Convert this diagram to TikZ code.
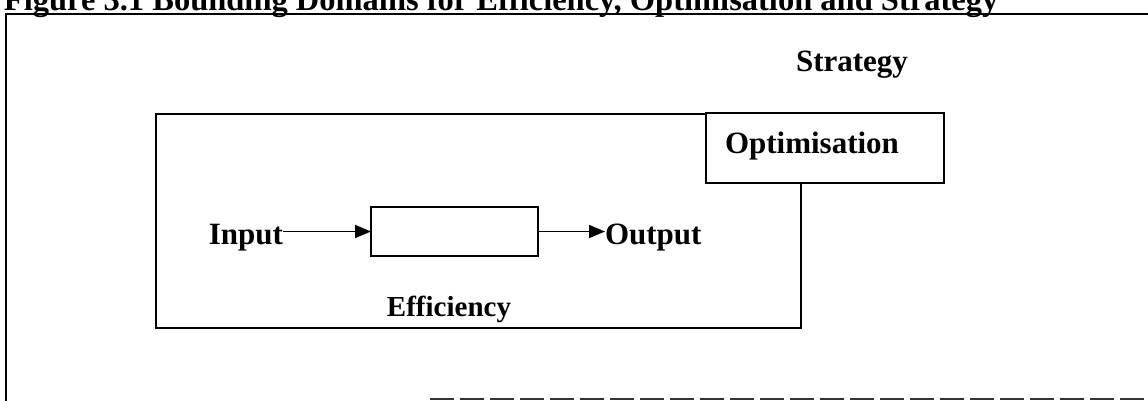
\documentclass[tikz,border=0pt]{standalone}
\usepackage{fontspec}
\setmainfont{Liberation Serif}
\usetikzlibrary{arrows.meta}
\begin{document}
\begin{tikzpicture}[x=1pt,y=-1pt,
  line width=1.8pt,
  lbl/.style={font=\fontsize{31}{36}\selectfont\bfseries, inner sep=0pt, outer sep=0pt},
  boxstyle/.style={draw, line width=1.8pt, inner sep=0pt, outer sep=0pt},
  arr/.style={-{Triangle[length=16pt,width=13pt]}, line width=1.8pt}]
\useasboundingbox (0,0) rectangle (1148,400);
\clip (0,0) rectangle (1148,400);
\fill[white] (0,0) rectangle (1148,400);
% title (cut off at the top, as in the scan)
\node[lbl, font=\fontsize{32.5}{38}\selectfont\bfseries, anchor=base west] (title) at (4,10) {Figure 3.1 Bounding Domains for Efficiency, Optimisation and Strategy};
% outer frame
\coordinate (fTL) at (6,14);
\coordinate (fTR) at (1160,14);
\coordinate (fBL) at (6,402);
\coordinate (bS) at (430,399);
\coordinate (bE) at (1160,399);
\draw (fBL) -- (fTL) -- (fTR);
\draw[dash pattern=on 24pt off 6pt, line width=1.5pt, black!80] (bS) -- (bE);
% strategy label
\node[lbl, anchor=base] (strat) at (852,71) {Strategy};
% efficiency domain
\node[boxstyle, minimum width=645pt, minimum height=214pt, anchor=north west] (eff) at (156,114) {};
% optimisation domain
\node[boxstyle, fill=white, minimum width=238pt, minimum height=70pt, anchor=north west] (opt) at (706,113) {};
\node[lbl, anchor=base west] (optl) at (725,153) {Optimisation};
% process
\node[boxstyle, minimum width=167pt, minimum height=49pt, anchor=north west] (proc) at (371,207) {};
\node[lbl, anchor=base east] (in) at (283,244) {Input};
\node[lbl, anchor=base west] (out) at (605,244) {Output};
\draw[arr] (in.east |- proc.west) -- (proc.west);
\draw[arr] (proc.east) -- (out.west |- proc.east);
\node[lbl, font=\fontsize{29}{34}\selectfont\bfseries, anchor=base] (effl) at (449,316) {Efficiency};
\end{tikzpicture}
\end{document}
